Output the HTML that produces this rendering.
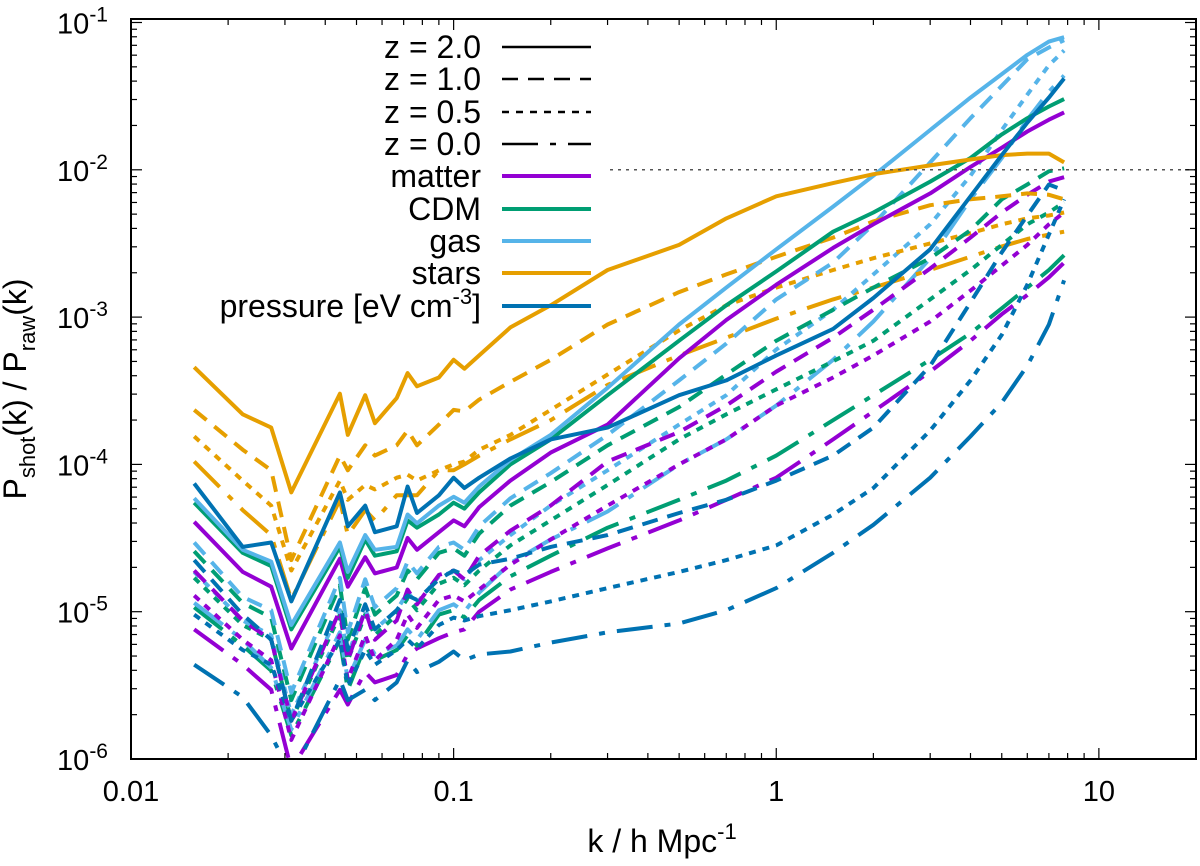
<!DOCTYPE html>
<html><head><meta charset="utf-8"><style>
html,body{margin:0;padding:0;background:#fff;}
svg{display:block;font-family:"Liberation Sans",Arial,sans-serif;}
</style></head><body>
<svg id="chart" width="1200" height="866" viewBox="0 0 1200 866" xmlns="http://www.w3.org/2000/svg">
<defs><clipPath id="plotclip"><rect x="131" y="19" width="1065" height="740"/></clipPath></defs>
<rect x="0" y="0" width="1200" height="866" fill="#fff"/>
<g id="series" clip-path="url(#plotclip)"></g>
<line x1="610" y1="169.8" x2="1196" y2="169.8" stroke="#555" stroke-width="1.5" stroke-dasharray="3 5"/>
<g id="axes"></g>
<g id="legend"></g>
<text x="662" y="852" font-size="32" text-anchor="middle">k / h Mpc<tspan dy="-13" font-size="22">-1</tspan></text>
<text transform="translate(26,389) rotate(-90)" font-size="32" text-anchor="middle">P<tspan dy="9" font-size="22">shot</tspan><tspan dy="-9">(k) / P</tspan><tspan dy="9" font-size="22">raw</tspan><tspan dy="-9">(k)</tspan></text>
<script>
// k grid (h/Mpc)
const kGrid = [0.0157,0.0222,0.0272,0.0314,0.0444,0.047,0.0532,0.057,0.0666,0.072,0.077,0.09,0.1,0.108,0.12,0.15,0.2,0.3,0.5,0.7,1,1.5,2,3,4,5,6,7,7.8];
// series values: log10(Pshot/Praw)
const matterZ20 = [-4.39,-4.73,-4.83,-5.25,-4.64,-4.83,-4.63,-4.74,-4.70,-4.50,-4.58,-4.46,-4.38,-4.42,-4.29,-4.11,-3.92,-3.73,-3.28,-3.02,-2.78,-2.53,-2.37,-2.16,-1.98,-1.85,-1.74,-1.66,-1.61];
const cdmZ20 = [-4.26,-4.60,-4.69,-5.12,-4.56,-4.77,-4.51,-4.62,-4.59,-4.38,-4.43,-4.34,-4.26,-4.30,-4.19,-4.00,-3.83,-3.53,-3.16,-2.92,-2.69,-2.42,-2.29,-2.08,-1.92,-1.76,-1.65,-1.57,-1.52];
const gasZ20 = [-4.23,-4.58,-4.66,-5.09,-4.53,-4.73,-4.48,-4.58,-4.56,-4.34,-4.40,-4.28,-4.22,-4.26,-4.15,-3.97,-3.80,-3.48,-3.05,-2.80,-2.54,-2.25,-2.04,-1.73,-1.51,-1.35,-1.22,-1.13,-1.10];
const starsZ20 = [-3.34,-3.66,-3.75,-4.19,-3.52,-3.80,-3.53,-3.72,-3.55,-3.38,-3.47,-3.41,-3.29,-3.35,-3.26,-3.07,-2.92,-2.68,-2.51,-2.33,-2.18,-2.09,-2.03,-1.97,-1.93,-1.90,-1.89,-1.89,-1.95];
const pressureZ20 = [-4.13,-4.56,-4.53,-4.93,-4.19,-4.42,-4.28,-4.46,-4.42,-4.15,-4.33,-4.21,-4.09,-4.16,-4.09,-3.96,-3.83,-3.75,-3.53,-3.43,-3.26,-3.08,-2.87,-2.54,-2.18,-1.90,-1.68,-1.51,-1.38];
const matterZ10 = [-4.72,-5.06,-5.19,-5.74,-4.99,-5.33,-4.99,-5.19,-5.06,-4.85,-4.95,-4.75,-4.72,-4.78,-4.62,-4.45,-4.28,-3.98,-3.78,-3.60,-3.37,-3.14,-2.95,-2.67,-2.46,-2.29,-2.17,-2.08,-2.05];
const cdmZ10 = [-4.59,-4.94,-5.04,-5.60,-4.82,-5.19,-4.84,-5.02,-4.89,-4.72,-4.78,-4.60,-4.57,-4.62,-4.47,-4.28,-4.12,-3.87,-3.61,-3.39,-3.16,-2.95,-2.80,-2.60,-2.41,-2.20,-2.10,-2.01,-1.99];
const gasZ10 = [-4.53,-4.90,-4.99,-5.55,-4.77,-5.14,-4.78,-4.97,-4.84,-4.66,-4.74,-4.56,-4.53,-4.58,-4.42,-4.23,-4.06,-3.80,-3.43,-3.18,-2.88,-2.63,-2.37,-1.95,-1.65,-1.43,-1.25,-1.17,-1.12];
const starsZ10 = [-3.63,-3.90,-4.04,-4.65,-3.94,-4.04,-3.87,-3.94,-3.87,-3.77,-3.87,-3.73,-3.63,-3.64,-3.56,-3.44,-3.29,-3.05,-2.83,-2.71,-2.59,-2.46,-2.35,-2.24,-2.20,-2.18,-2.16,-2.17,-2.20];
const pressureZ10 = [-4.65,-5.02,-5.19,-5.74,-4.92,-5.26,-4.95,-5.12,-4.99,-4.89,-4.92,-4.78,-4.72,-4.75,-4.68,-4.64,-4.56,-4.48,-4.33,-4.24,-4.11,-3.94,-3.75,-3.33,-2.90,-2.56,-2.31,-2.10,-2.14];
const matterZ05 = [-4.89,-5.19,-5.33,-5.87,-5.16,-5.46,-5.16,-5.33,-5.19,-5.02,-5.11,-4.92,-4.89,-4.93,-4.85,-4.68,-4.51,-4.28,-4.00,-3.83,-3.60,-3.41,-3.26,-3.03,-2.82,-2.65,-2.51,-2.37,-2.29];
const cdmZ05 = [-4.77,-5.09,-5.19,-5.74,-5.02,-5.33,-5.02,-5.16,-5.02,-4.91,-4.99,-4.81,-4.77,-4.82,-4.72,-4.55,-4.38,-4.14,-3.83,-3.66,-3.49,-3.30,-3.16,-2.88,-2.68,-2.51,-2.37,-2.29,-2.22];
const gasZ05 = [-4.73,-5.06,-5.16,-5.70,-4.99,-5.29,-4.99,-5.12,-4.99,-4.87,-4.94,-4.76,-4.73,-4.78,-4.65,-4.48,-4.28,-4.04,-3.73,-3.53,-3.22,-2.95,-2.71,-2.37,-2.04,-1.73,-1.49,-1.29,-1.19];
const starsZ05 = [-3.81,-4.11,-4.28,-4.72,-4.11,-4.24,-4.14,-4.17,-4.09,-4.07,-4.11,-4.04,-4.00,-3.98,-3.90,-3.80,-3.63,-3.39,-3.09,-2.92,-2.80,-2.68,-2.60,-2.50,-2.43,-2.37,-2.33,-2.31,-2.29];
const pressureZ05 = [-5.02,-5.26,-5.36,-5.74,-5.19,-5.50,-5.26,-5.36,-5.26,-5.19,-5.25,-5.09,-5.04,-5.06,-5.03,-4.99,-4.93,-4.84,-4.73,-4.65,-4.55,-4.34,-4.16,-3.77,-3.43,-3.12,-2.78,-2.44,-2.20];
const matterZ00 = [-5.12,-5.36,-5.53,-6.07,-5.53,-5.63,-5.41,-5.48,-5.43,-5.29,-5.25,-5.18,-5.14,-5.12,-5.00,-4.85,-4.73,-4.57,-4.38,-4.24,-4.09,-3.83,-3.64,-3.37,-3.16,-2.98,-2.85,-2.73,-2.63];
const cdmZ00 = [-4.97,-5.23,-5.40,-5.84,-5.19,-5.53,-5.23,-5.33,-5.26,-5.16,-5.23,-5.02,-4.99,-5.04,-4.92,-4.76,-4.62,-4.43,-4.24,-4.11,-3.94,-3.70,-3.53,-3.29,-3.11,-2.94,-2.80,-2.68,-2.58];
const gasZ00 = [-4.94,-5.19,-5.38,-5.80,-5.14,-5.46,-5.19,-5.29,-5.23,-5.12,-5.19,-4.99,-4.95,-5.00,-4.87,-4.67,-4.51,-4.32,-4.00,-3.83,-3.60,-3.29,-3.03,-2.60,-2.20,-1.92,-1.66,-1.47,-1.36];
const starsZ00 = [-3.98,-4.31,-4.48,-4.92,-4.24,-4.48,-4.31,-4.38,-4.21,-4.21,-4.21,-4.04,-4.04,-4.00,-3.94,-3.83,-3.70,-3.46,-3.26,-3.14,-3.01,-2.88,-2.80,-2.68,-2.59,-2.52,-2.47,-2.44,-2.42];
const pressureZ00 = [-5.36,-5.58,-5.84,-6.11,-5.46,-5.60,-5.53,-5.60,-5.48,-5.33,-5.41,-5.34,-5.27,-5.33,-5.29,-5.27,-5.21,-5.14,-5.08,-4.99,-4.84,-4.60,-4.41,-4.09,-3.81,-3.58,-3.33,-3.05,-2.75];
// axis tick labels
const xTickValues = [0.01,0.1,1,10];
const xTickLabels = ["0.01","0.1","1","10"];
const yTickExponents = [-6,-5,-4,-3,-2,-1];
const legendStyleLabels = ["z = 2.0","z = 1.0","z = 0.5","z = 0.0"];
const legendSpeciesLabels = ["matter","CDM","gas","stars","pressure [eV cm"];

const NS = "http://www.w3.org/2000/svg";
const X0 = 131, X1 = 1196, Y0 = 759, Y1 = 19;
const xLogMin = -2, xLogMax = Math.log10(20);
const yLogMin = -6, yLogMax = -1 + 3.5/147.3;
function xScale(k){ return X0 + (Math.log10(k) - xLogMin) / (xLogMax - xLogMin) * (X1 - X0); }
function yScale(l){ return Y0 - (l - yLogMin) / (yLogMax - yLogMin) * (Y0 - Y1); }

const colors = {matter:"#9400d3", cdm:"#009e73", gas:"#56b4e9", stars:"#e69f00", pressure:"#0072b2"};
const dashes = {z20:"", z10:"16 10", z05:"7 7", z00:"36 12 6 12"};
const seriesList = [
  ["z00","matter",matterZ00],["z00","cdm",cdmZ00],["z00","gas",gasZ00],["z00","stars",starsZ00],["z00","pressure",pressureZ00],
  ["z05","matter",matterZ05],["z05","cdm",cdmZ05],["z05","gas",gasZ05],["z05","stars",starsZ05],["z05","pressure",pressureZ05],
  ["z10","matter",matterZ10],["z10","cdm",cdmZ10],["z10","gas",gasZ10],["z10","stars",starsZ10],["z10","pressure",pressureZ10],
  ["z20","matter",matterZ20],["z20","cdm",cdmZ20],["z20","gas",gasZ20],["z20","stars",starsZ20],["z20","pressure",pressureZ20]
];
const gS = document.getElementById("series");
seriesList.forEach(function(s){
  const vals = s[2];
  let d = "";
  for (let i = 0; i < kGrid.length; i++) {
    d += (i ? "L" : "M") + xScale(kGrid[i]).toFixed(1) + "," + yScale(vals[i]).toFixed(1);
  }
  const p = document.createElementNS(NS, "path");
  p.setAttribute("d", d);
  p.setAttribute("fill", "none");
  p.setAttribute("stroke", colors[s[1]]);
  p.setAttribute("stroke-width", "4");
  p.setAttribute("stroke-linejoin", "round");
  if (dashes[s[0]]) p.setAttribute("stroke-dasharray", dashes[s[0]]);
  
  
  gS.appendChild(p);
});

// axes
const gA = document.getElementById("axes");
function addLine(x1,y1,x2,y2,w,name){
  const l = document.createElementNS(NS,"line");
  l.setAttribute("x1",x1); l.setAttribute("y1",y1); l.setAttribute("x2",x2); l.setAttribute("y2",y2);
  l.setAttribute("stroke","#000"); l.setAttribute("stroke-width",w);
  
  
  gA.appendChild(l);
}
const frame = document.createElementNS(NS,"rect");
frame.setAttribute("x",X0); frame.setAttribute("y",Y1); frame.setAttribute("width",X1-X0); frame.setAttribute("height",Y0-Y1);
frame.setAttribute("fill","none"); frame.setAttribute("stroke","#000"); frame.setAttribute("stroke-width","2");


gA.appendChild(frame);
for (let e = -2; e <= 1; e++) {
  for (let m = 1; m <= 9; m++) {
    const k = m * Math.pow(10, e);
    if (k > 20) continue;
    const x = xScale(k), len = (m === 1) ? 11 : 6;
    addLine(x, Y0, x, Y0 - len, 1.2, "x-tick");
    addLine(x, Y1, x, Y1 + len, 1.2, "x-tick-top");
  }
}
for (let e = -6; e <= -1; e++) {
  for (let m = 1; m <= 9; m++) {
    const l = e + Math.log10(m);
    if (l > yLogMax) continue;
    const y = yScale(l), len = (m === 1) ? 11 : 6;
    addLine(X0, y, X0 + len, y, 1.2, "y-tick");
    addLine(X1, y, X1 - len, y, 1.2, "y-tick-right");
  }
}
xTickValues.forEach(function(v, i){
  const t = document.createElementNS(NS,"text");
  t.setAttribute("x", xScale(v)); t.setAttribute("y", 801);
  t.setAttribute("font-size","29"); t.setAttribute("text-anchor","middle");
  t.textContent = xTickLabels[i];
  
  
  gA.appendChild(t);
});
yTickExponents.forEach(function(e){
  const t = document.createElementNS(NS,"text");
  t.setAttribute("x", 108); t.setAttribute("y", yScale(e) + 11);
  t.setAttribute("font-size","29"); t.setAttribute("text-anchor","end");
  const ts = document.createElementNS(NS,"tspan");
  ts.textContent = "10";
  const sup = document.createElementNS(NS,"tspan");
  sup.setAttribute("dy","-12"); sup.setAttribute("font-size","21");
  sup.textContent = String(e);
  t.appendChild(ts); t.appendChild(sup);
  
  
  gA.appendChild(t);
});

// legend
const gL = document.getElementById("legend");
const rowY = [47,79,112,144,176,209,241,273,306];
const legendEntries = [];
legendStyleLabels.forEach(function(lab, i){ legendEntries.push([lab, "#000", dashes[["z20","z10","z05","z00"][i]]]); });
const spKeys = ["matter","cdm","gas","stars","pressure"];
legendSpeciesLabels.forEach(function(lab, i){ legendEntries.push([lab, colors[spKeys[i]], ""]); });
legendEntries.forEach(function(en, i){
  const y = rowY[i];
  const t = document.createElementNS(NS,"text");
  t.setAttribute("x", 481); t.setAttribute("y", y + 11);
  t.setAttribute("font-size","32"); t.setAttribute("text-anchor","end");
  if (i === 8) {
    const a = document.createElementNS(NS,"tspan"); a.textContent = en[0];
    const b = document.createElementNS(NS,"tspan"); b.setAttribute("dy","-13"); b.setAttribute("font-size","22"); b.textContent = "-3";
    const c = document.createElementNS(NS,"tspan"); c.setAttribute("dy","13"); c.textContent = "]";
    t.appendChild(a); t.appendChild(b); t.appendChild(c);
  } else {
    t.textContent = en[0];
  }
  
  
  gL.appendChild(t);
  const l = document.createElementNS(NS,"line");
  l.setAttribute("x1", 502); l.setAttribute("x2", 591); l.setAttribute("y1", y); l.setAttribute("y2", y);
  l.setAttribute("stroke", en[1]);
  l.setAttribute("stroke-width", i < 4 ? "2.5" : "4");
  if (en[2]) l.setAttribute("stroke-dasharray", en[2]);
  
  
  gL.appendChild(l);
});
</script>
</svg>
</body></html>
